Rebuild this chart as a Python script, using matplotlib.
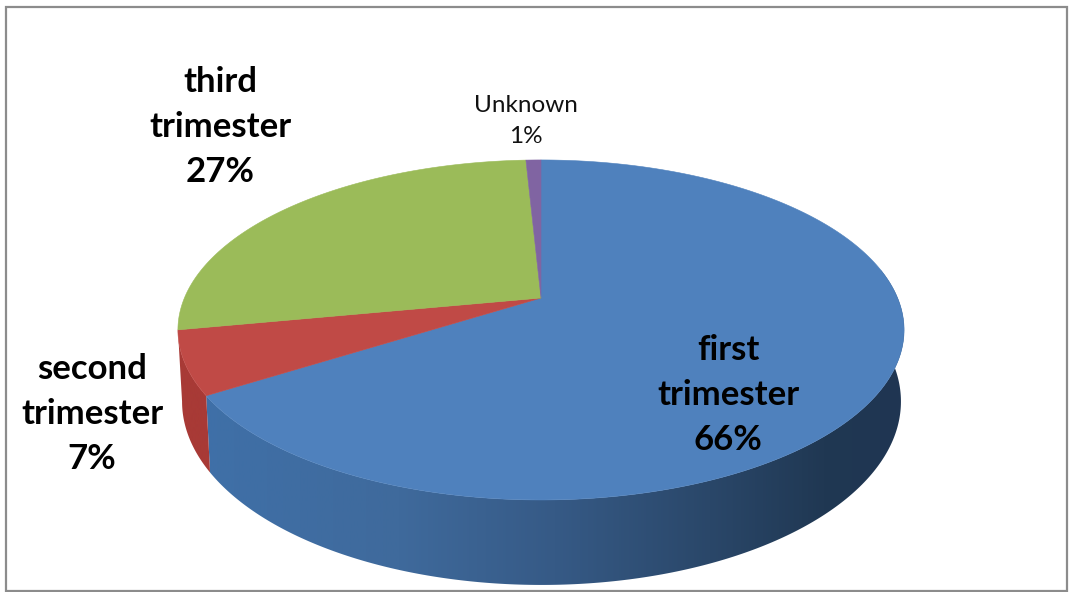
import numpy as np
import matplotlib
matplotlib.use("Agg")
import matplotlib.pyplot as plt
from matplotlib.patches import Polygon, Rectangle
from matplotlib.colors import LinearSegmentedColormap

# data
categories = ["first\ntrimester", "second\ntrimester", "third\ntrimester", "Unknown"]
label_pcts = [66, 7, 27, 1]
wedge_shares = [66, 6, 27.2, 0.8]   # drawn shares (labels are rounded and sum to 101)
top_colors = ["#4f81bd", "#c04a46", "#9bbb59", "#8064a2"]

W, H = 1070, 592
fig = plt.figure(figsize=(W / 100, H / 100), dpi=100, facecolor="white")
ax = fig.add_axes([0, 0, 1, 1])
ax.set_xlim(0, W)
ax.set_ylim(H, 0)
ax.axis("off")

ax.add_patch(Rectangle((6, 6.5), 1061, 584.5, fill=False, ec="#8c8c8c", lw=1.6, zorder=1))

# perspective projection of a unit disc onto the picture
CX, CY, K, A, B = 541.0, 298.0, 0.188, 164.0, 356.6
DEPTH, SHRINK, XSHIFT = 69.0, 0.99, 0.5


def project(theta, r=1.0, z=0.0):
    """theta is measured clockwise from 12 o'clock, z is 0 on top, 1 on the bottom."""
    u, v = r * np.sin(theta), r * np.cos(theta)
    s = 1.0 / (1.0 + K * v)
    scale = 1.0 + (SHRINK - 1.0) * z
    return CX + B * u * s * scale + XSHIFT * z, CY - A * v * s + DEPTH * s * z


fractions = np.array(wedge_shares, dtype=float) / np.sum(wedge_shares)
edges = np.concatenate([[0.0], np.cumsum(fractions)]) * 2 * np.pi

# side walls: first and second wedges face the viewer
RIGHT = np.radians(80.0)
LEFT = np.radians(281.0)
side_maps = [
    LinearSegmentedColormap.from_list("blue", [
        (0.0, "#3f70a8"), (0.28, "#3f6a9c"), (0.5, "#365a86"),
        (0.72, "#2a4769"), (0.88, "#203853"), (1.0, "#1f3552")]),
    LinearSegmentedColormap.from_list("red", ["#a83a36", "#a83a36"]),
]
gradient = np.linspace(0, 1, 512).reshape(1, -1)
for i, cmap in enumerate(side_maps):
    lo, hi = max(edges[i], RIGHT), min(edges[i + 1], LEFT)
    t = np.linspace(lo, hi, 240)
    xt, yt = project(t)
    xb, yb = project(t, z=1.0)
    pts = np.column_stack([np.r_[xt, xb[::-1]], np.r_[yt, yb[::-1]]])
    poly = Polygon(pts, closed=True, fc="none", ec="none", zorder=2)
    ax.add_patch(poly)
    if i == 0:
        extent = (200, 910, H, 0)
    else:
        extent = (170, 230, H, 0)
    im = ax.imshow(gradient, cmap=cmap, aspect="auto", extent=extent, zorder=2)
    im.set_clip_path(poly)
ax.set_xlim(0, W)
ax.set_ylim(H, 0)

# top face
for i, col in enumerate(top_colors):
    t = np.linspace(edges[i], edges[i + 1], 300)
    x, y = project(t)
    pts = np.column_stack([np.r_[CX, x], np.r_[CY, y]])
    ax.add_patch(Polygon(pts, closed=True, fc=col, ec=col, lw=0.4, zorder=3))

# labels
bold = dict(family="Lato", fontweight="bold", fontsize=25, color="black",
            ha="center", va="center", linespacing=1.5, zorder=5)
ax.text(728, 395, f"{categories[0]}\n{label_pcts[0]}%", **bold)
ax.text(92, 414, f"{categories[1]}\n{label_pcts[1]}%", **bold)
ax.text(220, 127, f"{categories[2]}\n{label_pcts[2]}%", **bold)
ax.text(526, 121, f"{categories[3]}\n{label_pcts[3]}%", family="Lato", fontsize=17.5,
        color="#111111", ha="center", va="center", linespacing=1.62, zorder=5)

fig.savefig("out.png", dpi=100, facecolor="white")
